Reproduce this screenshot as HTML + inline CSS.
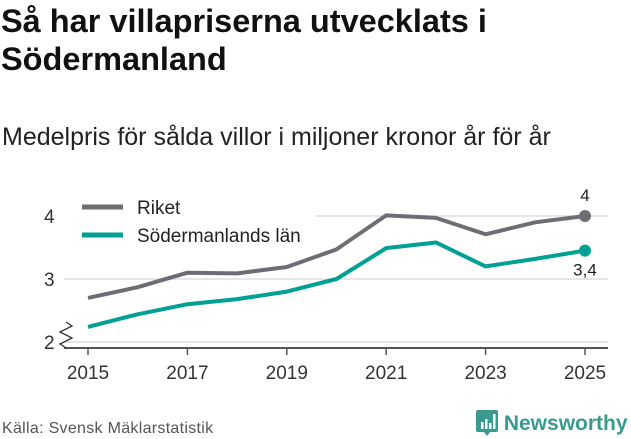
<!DOCTYPE html>
<html><head><meta charset="utf-8"><style>
body{margin:0;width:631px;height:439px;background:#fff;font-family:"Liberation Sans","DejaVu Sans",sans-serif;overflow:hidden;position:relative}
.t{position:absolute;left:1px;top:2px;font-size:32.5px;font-weight:bold;line-height:38px;color:#111}
.s{position:absolute;left:2px;top:123px;font-size:25px;color:#222}
.src{position:absolute;left:2px;top:420px;font-size:16px;color:#555;letter-spacing:0.3px}
.logo{position:absolute;left:476px;top:408px;font-size:21px;font-weight:bold;color:#3a9a8e}
</style></head><body>
<div class="t">Så har villapriserna utvecklats i<br>Södermanland</div>
<div class="s">Medelpris för sålda villor i miljoner kronor år för år</div>
<svg width="631" height="439" style="position:absolute;left:0;top:0" id="chart"></svg>
<div class="src">Källa: Svensk Mäklarstatistik</div>
<div class="logo"><svg width="22" height="28" style="vertical-align:-6px"><rect x="0" y="2" width="22" height="22" rx="2" fill="#3a9a8e"/><polygon points="8,24 14,24 11,28" fill="#3a9a8e"/><rect x="5" y="14" width="2.5" height="7" fill="#fff"/><rect x="9" y="11" width="2.5" height="10" fill="#fff"/><rect x="13" y="15" width="2.5" height="6" fill="#fff"/><rect x="17" y="6" width="2.5" height="15" fill="#fff"/></svg> Newsworthy</div>
<script>
const years=[2015,2016,2017,2018,2019,2020,2021,2022,2023,2024,2025];
const riket=[2.70,2.87,3.10,3.09,3.19,3.47,4.01,3.97,3.71,3.90,4.0];
const sodermanland=[2.24,2.44,2.60,2.68,2.80,3.0,3.49,3.58,3.20,3.32,3.45];
const yTicks=[2,3,4];
const xTicks=[2015,2017,2019,2021,2023,2025];
const NS='http://www.w3.org/2000/svg';
const svg=document.getElementById('chart');
const x=v=>88+(v-2015)*49.7;
const y=v=>342-(v-2)*63;
function el(t,a){const e=document.createElementNS(NS,t);for(const k in a)e.setAttribute(k,a[k]);svg.appendChild(e);return e;}
yTicks.forEach(t=>{
 const g=el('line',{x1:64,x2:608,y1:y(t),y2:y(t),stroke:'#ddd','stroke-width':1.5});
 
 
 const l=el('text',{x:44,y:y(t)+7,'font-size':19,fill:'#333','font-family':'Liberation Sans, sans-serif'});
 l.textContent=t;
 
 
});
const ax=el('line',{x1:64,x2:608,y1:348,y2:348,stroke:'#555','stroke-width':2});


const br=el('polyline',{points:'66,322 72,326 60,332 72,338 60,344 66,348',fill:'none',stroke:'#333','stroke-width':1.3});


xTicks.forEach(t=>{
 el('line',{x1:x(t),x2:x(t),y1:348,y2:355,stroke:'#555','stroke-width':1.5});
 const l=el('text',{x:x(t),y:379,'font-size':19,fill:'#333','text-anchor':'middle','font-family':'Liberation Sans, sans-serif'});
 l.textContent=t;
 
 
});
const lb=el('rect',{x:64,y:194,width:252,height:52,fill:'#fff'});
function series(vals,col,name){
 const p=el('polyline',{points:vals.map((v,i)=>x(years[i])+','+y(v)).join(' '),fill:'none',stroke:col,'stroke-width':4,'stroke-linejoin':'round'});
 
 
 const n=vals.length-1;
 const c=el('circle',{cx:x(years[n]),cy:y(vals[n]),r:6,fill:col});
 
 
}
series(riket,'#6e6d73','riket');
series(sodermanland,'#00a094','sodermanland');
const v1=el('text',{x:x(2025),y:y(riket[10])-15,'font-size':17,fill:'#222','text-anchor':'middle','font-family':'Liberation Sans, sans-serif'});
v1.textContent='4';


const v2=el('text',{x:x(2025),y:y(sodermanland[10])+25,'font-size':17,fill:'#222','text-anchor':'middle','font-family':'Liberation Sans, sans-serif'});
v2.textContent='3,4';


[['Riket','#6e6d73',207],['Södermanlands län','#00a094',235]].forEach(([n,c,yy])=>{
 el('line',{x1:82,x2:123,y1:yy,y2:yy,stroke:c,'stroke-width':5});
 const t=el('text',{x:137,y:yy+7,'font-size':19,fill:'#222','font-family':'Liberation Sans, sans-serif'});
 t.textContent=n;
 
 
});
</script>
</body></html>
